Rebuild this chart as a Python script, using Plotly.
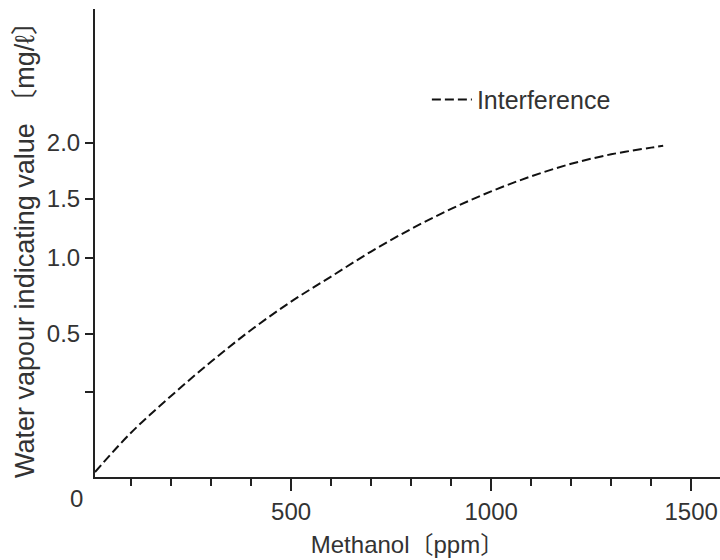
import plotly.graph_objects as go

# Methanol concentration (ppm) and the resulting water vapour reading
methanol_ppm = [10, 100, 200, 300, 400, 500, 600, 700, 800, 900, 1000,
                1100, 1200, 1300, 1400, 1430]
indicated = [0.03, 0.265, 0.485, 0.69, 0.88, 1.05, 1.20, 1.35, 1.485, 1.605,
             1.71, 1.80, 1.875, 1.932, 1.972, 1.983]

y_tick_labels = ["2.0", "1.5", "1.0", "0.5", ""]
x_tick_values = [500, 1000, 1500]
series_name = "Interference"

# where the printed y-axis graduations sit on the drawn scale
y_tick_pos = [2.0, 1.665, 1.311, 0.856, 0.509]

FONT = "Liberation Sans, Arial, Noto Sans CJK JP, sans-serif"
INK = "#222222"
TEXT = "#333333"

fig = go.Figure()
fig.add_trace(go.Scatter(
    x=methanol_ppm, y=indicated, mode="lines", name=series_name,
    line=dict(color="#111111", width=2, dash="9px,4px", shape="spline"),
))

fig.update_layout(
    width=720, height=560,
    margin=dict(l=95, r=0, t=9, b=83),
    paper_bgcolor="white", plot_bgcolor="white",
    font=dict(family=FONT, size=24, color=TEXT),
    showlegend=True,
    legend=dict(x=0.531, y=0.806, xanchor="left", yanchor="middle",
                bgcolor="rgba(0,0,0,0)", font=dict(size=25, color=TEXT),
                itemwidth=40),
    xaxis=dict(
        range=[10, 1572], showgrid=False, zeroline=False,
        showline=True, linecolor=INK, linewidth=2,
        tickvals=x_tick_values, ticks="outside", ticklen=12,
        tickwidth=2, tickcolor=INK, ticklabelstandoff=0,
        minor=dict(dtick=100, tick0=0, ticks="outside", ticklen=7,
                   tickwidth=2, tickcolor=INK),
        title=dict(text="Methanol〔ppm〕", standoff=12,
                   font=dict(size=24, color=TEXT)),
    ),
    yaxis=dict(
        range=[0, 2.802], showgrid=False, zeroline=False,
        showline=True, linecolor=INK, linewidth=2,
        tickvals=y_tick_pos, ticktext=y_tick_labels,
        ticks="outside", ticklen=8, tickwidth=2, tickcolor=INK,
        title=dict(text="Water vapour indicating value 〔mg/ℓ〕", standoff=4,
                   font=dict(size=27, color=TEXT)),
    ),
    annotations=[dict(text="0", xref="paper", yref="paper",
                      x=-0.0304, y=-0.045, xanchor="center", yanchor="middle",
                      showarrow=False, font=dict(size=24, color=TEXT))],
)

fig.write_html("out.html")
